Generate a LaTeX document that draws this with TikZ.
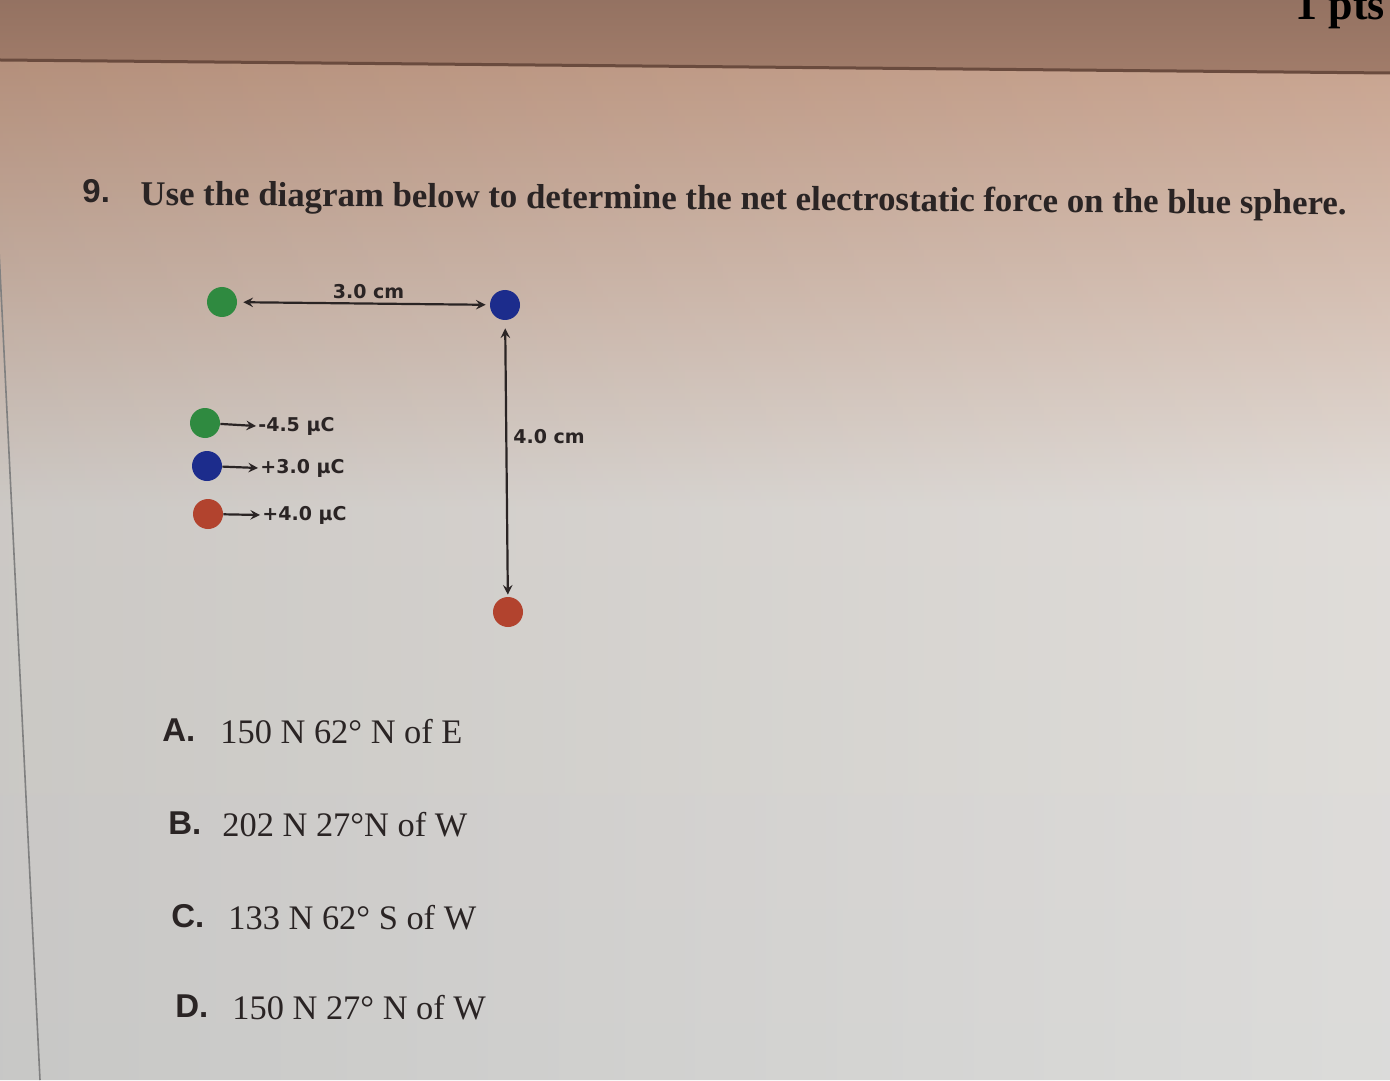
\documentclass[tikz,border=0pt]{standalone}
\usepackage{fontspec}
\setmainfont{Liberation Serif}
\newfontfamily\arialfont{Liberation Sans}
\newfontfamily\dejafont{DejaVu Sans}
\definecolor{bandbrown}{HTML}{A17C6A}
\definecolor{edgebrown}{HTML}{6A4B3E}
\definecolor{pagetan}{HTML}{C49C86}
\definecolor{pagetint}{HTML}{D3BDB0}
\definecolor{pagelight}{HTML}{DEDAD6}
\definecolor{pagegray}{HTML}{D9D9D7}
\definecolor{inkgray}{HTML}{2A2424}
\definecolor{chgreen}{HTML}{2F8A40}
\definecolor{chblue}{HTML}{1C2C8C}
\definecolor{chred}{HTML}{B2432E}
\pgfdeclareverticalshading{pagefade}{100bp}{color(0bp)=(pagegray);
    color(25bp)=(pagegray); color(53bp)=(pagelight); color(63bp)=(pagetint);
    color(75bp)=(pagetan); color(100bp)=(pagetan)}
\tikzset{
    sphere/.style={circle,inner sep=0pt,minimum size=15pt},
    dimline/.style={draw=inkgray,line width=1.1pt,>=stealth},
    chargelbl/.style={font=\dejafont\bfseries\fontsize{9.5}{11}\selectfont,
        text=inkgray,anchor=west,inner sep=1pt},
    letterlbl/.style={font=\arialfont\bfseries\fontsize{16.5}{18}\selectfont,
        text=inkgray,anchor=base west,inner sep=0pt},
    answerlbl/.style={font=\fontsize{17.2}{20}\selectfont,
        text=inkgray,anchor=base west,inner sep=0pt}
}
\begin{document}
\begin{tikzpicture}[x=0.5pt,y=-0.5pt]
    \useasboundingbox (0,0) rectangle (1390,1080);
    \clip (0,0) rectangle (1390,1080);
    %% Screen background
    \shade[shading=pagefade]
        (0,60) -- (1390,73) -- (1390,1080) -- (0,1080) -- cycle;
    \shade[left color=black,right color=white,fill opacity=0.08]
        (0,60) -- (1390,73) -- (1390,1080) -- (0,1080) -- cycle;
    \shade[top color=bandbrown!92!black,bottom color=bandbrown]
        (0,0) -- (1390,0) -- (1390,73) -- (0,60) -- cycle;
    \draw[edgebrown,line width=1.5pt] (0,60) -- (1390,73);
    \draw[gray,line width=0.8pt] (-2,230) -- (40,1080);
    \node[font=\fontsize{22}{24}\selectfont\bfseries,text=black,anchor=base east]
        (ptsnum) at (1392,20) {1 pts};
    %% Question
    \node[font=\arialfont\bfseries\fontsize{16.5}{18}\selectfont,text=inkgray,
        anchor=base west,inner sep=0pt] (qnum) at (82,203) {9.};
    \node[font=\fontsize{17.4}{20}\selectfont\bfseries,text=inkgray,
        anchor=base west,inner sep=0pt,rotate=-0.45] (qtext) at (140,205)
        {Use the diagram below to determine the net electrostatic force on the blue sphere.};
    %% Spheres
    \node[sphere,fill=chgreen] (sphgreen) at (222,302) {};
    \node[sphere,fill=chblue] (sphblue) at (505,305) {};
    \node[sphere,fill=chred] (sphred) at (508,612) {};
    %% Distances
    \draw[dimline,<->,shorten <=3pt,shorten >=2pt] (sphgreen) -- (sphblue)
        node[pos=0.52,above=1pt,chargelbl,anchor=south] {3.0 cm};
    \draw[dimline,<->,shorten <=4pt,shorten >=1pt] (sphblue) -- (sphred)
        node[pos=0.42,right=2pt,chargelbl] {4.0 cm};
    %% Legend
    \node[sphere,fill=chgreen] (leggreen) at (205,423) {};
    \node[sphere,fill=chblue] (legblue) at (207,466) {};
    \node[sphere,fill=chred] (legred) at (208,514) {};
    \node[chargelbl] (lblgreen) at (256,426) {-4.5 μC};
    \node[chargelbl] (lblblue) at (258,468) {+3.0 μC};
    \node[chargelbl] (lblred) at (260,515) {+4.0 μC};
    \foreach \c in {green,blue,red}
        \draw[dimline,->] (leg\c) -- (lbl\c.west);
    %% Answers
    \node[letterlbl] (letA) at (162,741) {A.};
    \node[answerlbl] (ansA) at (220,743) {150 N 62° N of E};
    \node[letterlbl] (letB) at (168,834) {B.};
    \node[answerlbl] (ansB) at (222,836) {202 N 27°N of W};
    \node[letterlbl] (letC) at (171,927) {C.};
    \node[answerlbl] (ansC) at (228,929) {133 N 62° S of W};
    \node[letterlbl] (letD) at (175,1017) {D.};
    \node[answerlbl] (ansD) at (232,1019) {150 N 27° N of W};
\end{tikzpicture}
\end{document}
